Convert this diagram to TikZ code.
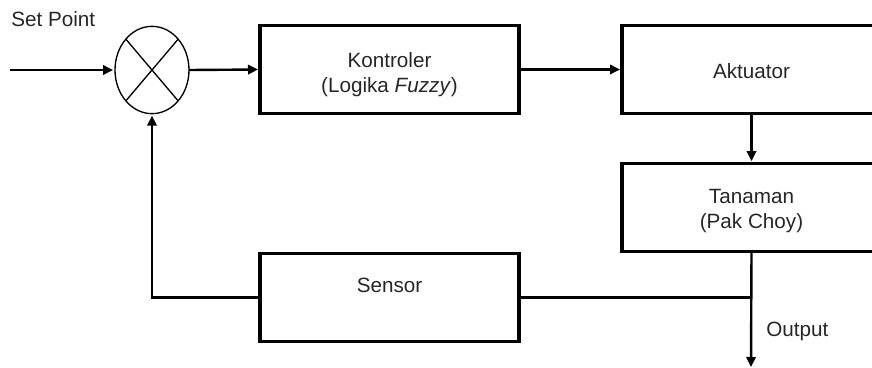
\documentclass[tikz,border=0pt]{standalone}
\usepackage{fontspec}
\setmainfont{Liberation Sans}
\usetikzlibrary{arrows.meta,shapes.geometric}
\definecolor{ink}{HTML}{262626}
\begin{document}
\begin{tikzpicture}[x=0.75pt,y=-0.75pt,
  txt/.style={font=\fontsize{15.5}{18.75}\selectfont, text=ink, align=center},
  block/.style={draw=black, line width=2.3pt, minimum width=194.25pt,
                minimum height=66.5pt, inner sep=0pt, outer sep=0pt},
  conn/.style={line width=1.8pt, -{Triangle[length=7.5pt,width=7pt]}, shorten >=1.5pt},
  wire/.style={line width=1.8pt}]
  \path[use as bounding box, clip] (0,0) rectangle (872,368);

  % summing junction
  \node[draw, ellipse, line width=1pt, minimum width=55.5pt,
        minimum height=65.5pt, inner sep=0pt, outer sep=0pt] (sum) at (152,70) {};
  \draw[line width=1pt] (sum.north east) -- (sum.south west)
                        (sum.north west) -- (sum.south east);

  % blocks and their captions
  \node[block] (kont) at (389.5,69.5) {};
  \node[block] (akt) at (751.5,69.5) {};
  \node[block] (tan) at (751.5,207.5) {};
  \node[block] (sens) at (389.5,297.5) {};
  \node[txt] (kontlbl) at (389.5,74.5) {Kontroler\\(Logika \textit{Fuzzy})};
  \node[txt] (aktlbl) at (751.5,71) {Aktuator};
  \node[txt] (tanlbl) at (751.5,211.5) {Tanaman\\(Pak Choy)};
  \node[txt] (senslbl) at (389.5,285) {Sensor};

  % free labels
  \node[txt, anchor=base west, inner sep=0pt] (sp) at (11,26) {Set Point};
  \node[txt, anchor=base west, inner sep=0pt] (outlbl) at (766,336) {Output};

  % connectors
  \coordinate (in) at (10,70);
  \coordinate (j) at (751,297.5);
  \coordinate (out) at (751,367);
  \draw[conn] (in) -- (sum.west);
  \draw[conn] (sum.east) -- (kont.west);
  \draw[conn] (kont.east) -- (akt.west);
  \draw[conn] (akt.south) -- (tan.north);
  \draw[conn, shorten >=0pt] (tan.south) -- (out);
  \draw[wire] (sens.east) -- (j);
  \draw[conn] (sens.west) -| (sum.south);
\end{tikzpicture}
\end{document}
